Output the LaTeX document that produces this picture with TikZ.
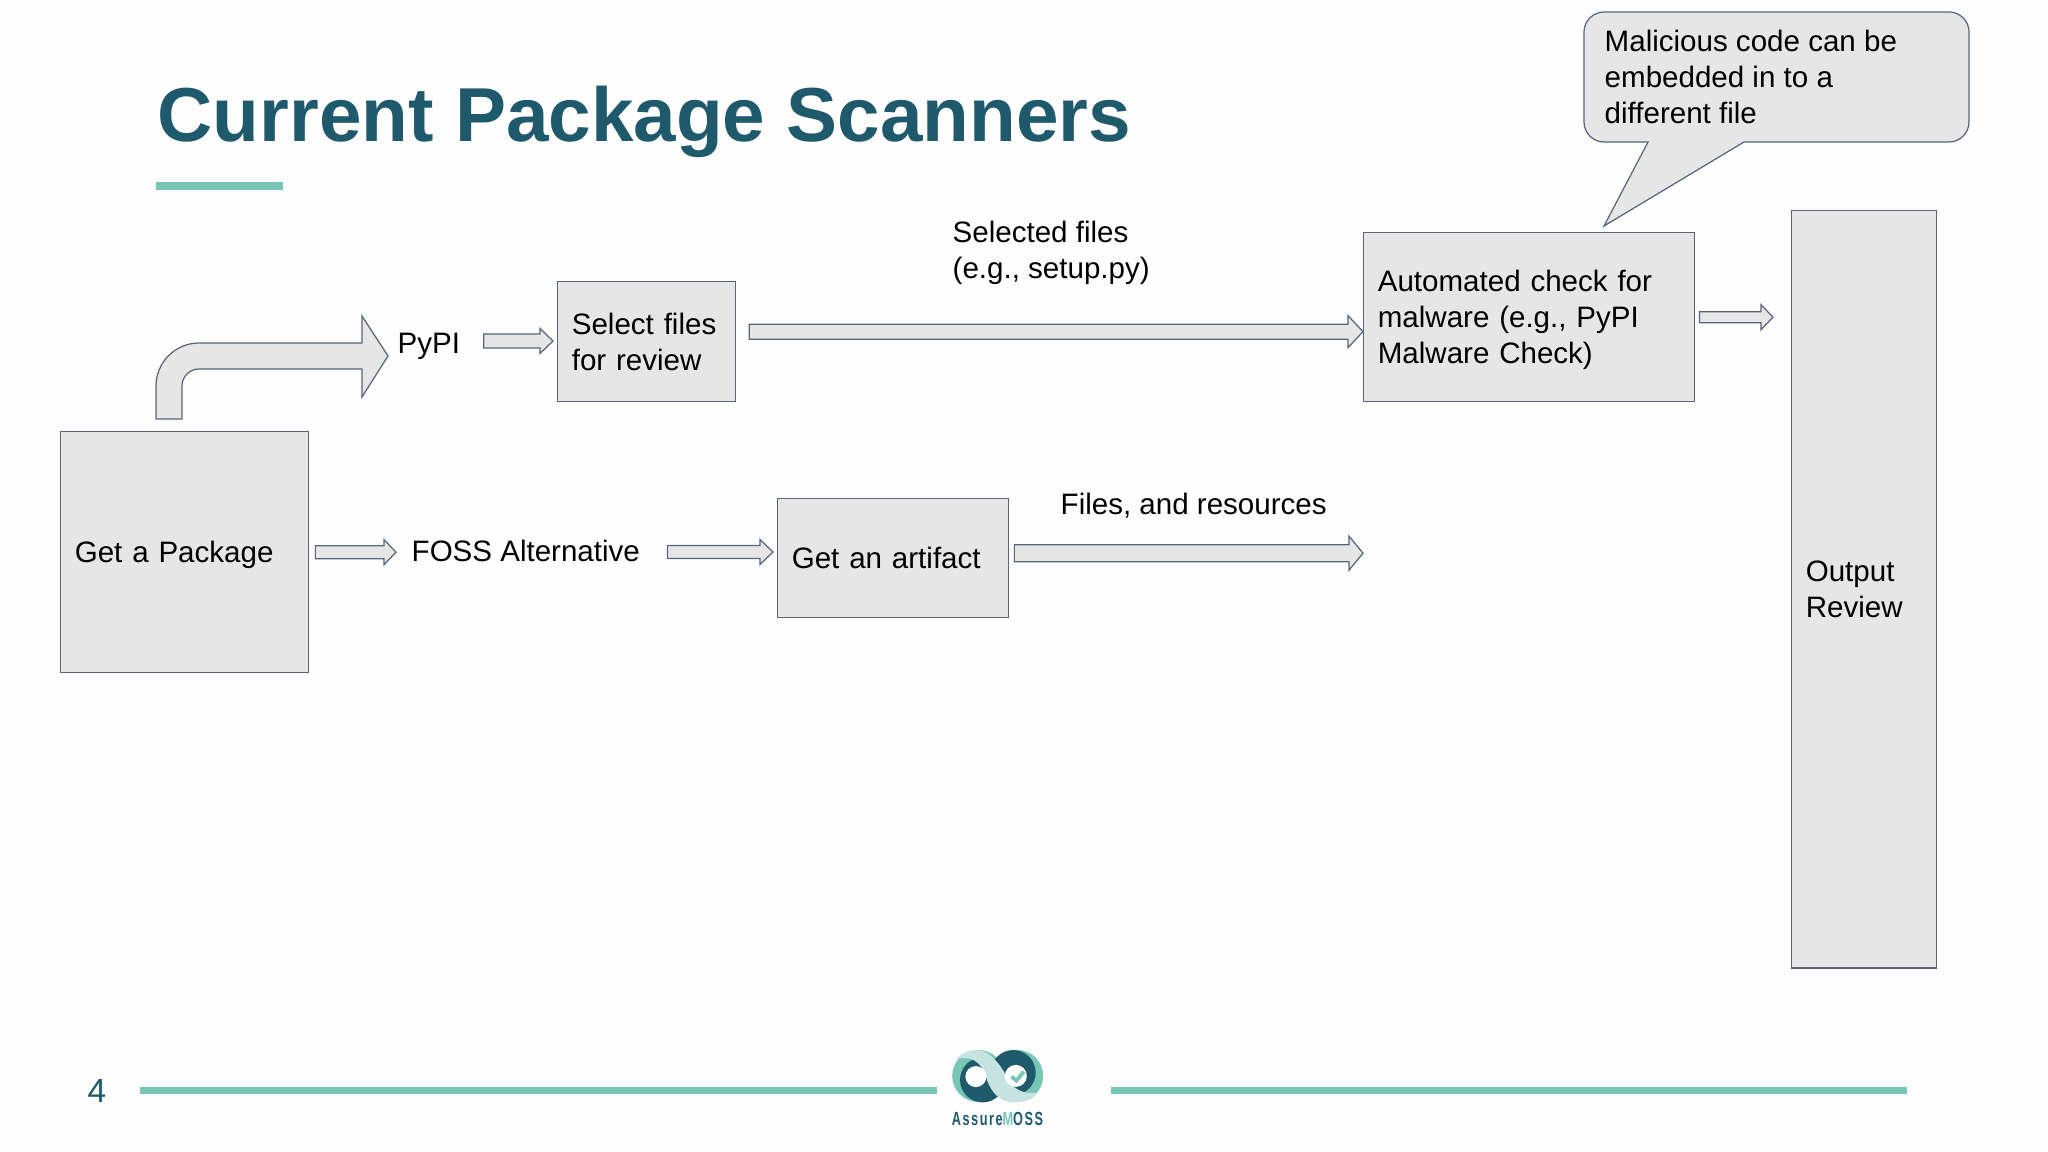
\documentclass[tikz,border=0pt]{standalone}
\usepackage{fontspec}
\setmainfont{Liberation Sans}
\usetikzlibrary{calc}

\definecolor{boxfill}{HTML}{E6E6E7}
\definecolor{boxline}{HTML}{5B6478}
\definecolor{titleblue}{HTML}{1F5A6C}
\definecolor{mosslight}{HTML}{C6E3E1}
\definecolor{mossteal}{HTML}{78C6B6}
\definecolor{slide}{HTML}{FEFEFE}

\tikzset{
  box/.style={draw=boxline,fill=boxfill,line width=0.35pt,anchor=north west,align=left,
              inner xsep=0.142cm,inner ysep=0pt,font=\fontsize{8.4}{10.3}\selectfont},
  label/.style={anchor=west,align=left,inner sep=0pt,font=\fontsize{8.4}{10.3}\selectfont},
  block/.style={draw=boxline,fill=boxfill,line width=0.35pt,line join=miter},
  rule/.style={mossteal,line width=1.95pt}
}

% from, to, half shaft, half head, head length
\newcommand{\blockarrow}[5]{
  \draw[block] let \p1=(#1),\p2=(#2) in
    (\x1,\y1+#3*0.01cm) -- (\x2-#5*0.01cm,\y1+#3*0.01cm) -- (\x2-#5*0.01cm,\y1+#4*0.01cm)
    -- (\x2,\y1) -- (\x2-#5*0.01cm,\y1-#4*0.01cm) -- (\x2-#5*0.01cm,\y1-#3*0.01cm)
    -- (\x1,\y1-#3*0.01cm) -- cycle;
}

\begin{document}
\begin{tikzpicture}[x=0.01cm,y=-0.01cm]

    \useasboundingbox (0,0) rectangle (2048,1152);
    \fill[slide] (0,0) rectangle (2048,1152);

    % Title
    \node[anchor=west,inner sep=0pt,text=titleblue,font=\bfseries\fontsize{21.75}{26}\selectfont] (title) at (157,122) {Current Package Scanners};
    \fill[mossteal] (155.5,182) rectangle (283,190);

    % Boxes
    \node[box,text width=2.196cm,minimum height=2.41cm] (getBox) at (60,431) {\rule{0pt}{7.6pt}Get a Package};
    \node[box,text width=1.496cm,minimum height=1.20cm] (selectBox) at (557,281) {Select files\\for review};
    \node[box,text width=2.026cm,minimum height=1.19cm] (artifactBox) at (777,498) {Get an artifact};
    \node[box,text width=3.026cm,minimum height=1.69cm] (checkBox) at (1363,232) {\rule{0pt}{7.6pt}Automated check for\\malware (e.g., PyPI\\Malware Check)};
    \node[box,text width=1.166cm,minimum height=7.57cm] (outputBox) at (1791,210) {Output\\Review};

    % Labels
    \node[label] (pypi) at (397,346) {PyPI};
    \node[label] (foss) at (411,551) {FOSS Alternative};
    \node[label] (selected) at (952,253) {Selected files\\(e.g., setup.py)};
    \node[label] (resources) at (1060,506) {Files, and resources};

    % Bent arrow
    \draw[block] [rounded corners=0.43cm] ($(getBox.north west)+(96,-12)$) -- (156,343) [sharp corners] -- (362,343)
      -- (362,316) -- (388,356) -- (362,397) -- (362,369) [rounded corners=0.17cm] -- (182,369) [sharp corners]
      -- ($(getBox.north west)+(122,-12)$) -- cycle;

    % Straight arrows
    \blockarrow{$(pypi.east)+(23,-5)$}{$(selectBox.west)+(-4,0)$}{7}{12.5}{13}
    \blockarrow{$(selectBox.east)+(13,-10)$}{checkBox.west}{7.5}{16}{15}
    \blockarrow{$(checkBox.east)+(4,0)$}{$(outputBox.west)+(-18,0)$}{5.5}{12.5}{12}
    \blockarrow{$(getBox.east)+(6,0)$}{$(foss.west)+(-15,0)$}{6.5}{12.5}{12}
    \blockarrow{$(foss.east)+(27,1)$}{$(artifactBox.west)+(-4,0)$}{6.5}{12.5}{13}
    \blockarrow{$(artifactBox.east)+(5,-5)$}{checkBox.west}{8.5}{17}{14}

    % Callout
    \draw[block] [rounded corners=0.2cm] (1648,142) -- (1584,142) -- (1584,12) -- (1969,12) -- (1969,142) [sharp corners]
      -- (1744,142) -- (1604,226) -- cycle;
    \node[label] (malicious) at (1604,77) {Malicious code can be\\embedded in to a\\different file};

    % Footer
    \node[anchor=center,inner sep=0pt,text=titleblue,font=\fontsize{9.5}{11}\selectfont] (page) at (97,1091) {4};
    \draw[rule] (140,1090.5) -- (937,1090.5);
    \draw[rule] (1111,1090.5) -- (1907,1090.5);

    % Logo
    \begin{scope}[shift={(900,1020)},x=0.00333cm,y=-0.00333cm]
      %% Left ring
      \fill[mossteal] (235,168) circle[radius=0.26cm];
      \fill[titleblue] (248,180) circle[radius=0.225cm];
      %% Right ring
      \fill[mossteal] (352,168) circle[radius=0.26cm];
      \fill[titleblue] (340,158) circle[radius=0.225cm];
      %% Band
      \fill[mosslight] (168,118) .. controls (195,88) and (240,80) .. (270,105)
        .. controls (300,130) and (312,155) .. (325,178)
        .. controls (337,205) and (370,225) .. (410,218)
        .. controls (388,245) and (355,250) .. (330,247)
        .. controls (290,240) and (268,205) .. (258,170)
        .. controls (245,125) and (210,105) .. (168,118) -- cycle;
      %% Holes
      \fill[white] (228,170) circle[radius=0.105cm];
      \fill[white] (348,168) circle[radius=0.11cm];
      %% Check
      \draw[mossteal,line width=1.1pt] (335,170) -- (350,182) -- (372,155);
      %% Name
      \node[inner sep=0pt,text=titleblue,xscale=0.67,transform shape,font=\bfseries\fontsize{5.4}{6}\selectfont\addfontfeatures{LetterSpace=12}] (mossName) at (293,298) {Assure\textcolor{mossteal}{M}OSS};
    \end{scope}

\end{tikzpicture}
\end{document}
